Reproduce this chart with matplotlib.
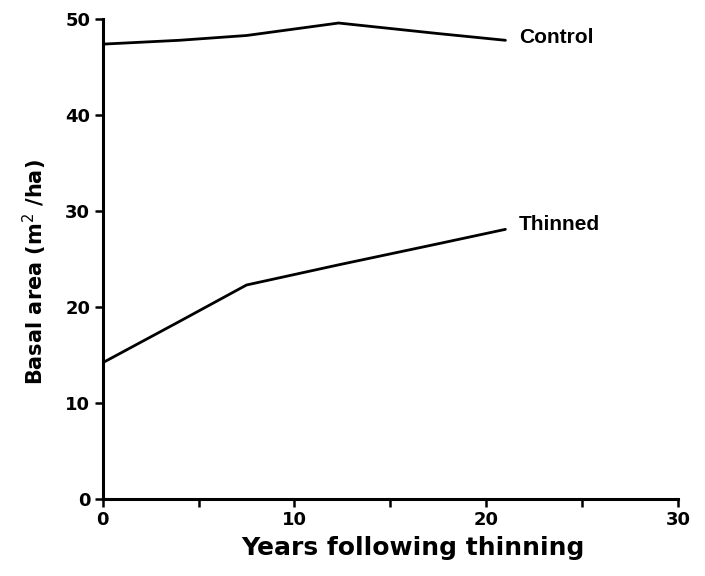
"""Basal area after thinning, control vs thinned stands."""

from matplotlib import pyplot as plt

years = [0, 4, 7.5, 12.3, 17.5, 21]
control = [47.4, 47.8, 48.3, 49.6, 48.5, 47.8]
thinned = [14.2, 18.5, 22.3, 24.4, 26.6, 28.1]

x_ticks = [0, 10, 20, 30]
x_minor = [5, 15, 25]
y_ticks = [0, 10, 20, 30, 40, 50]

fig = plt.figure(figsize=(7.05, 5.76), dpi=100)
ax = fig.add_axes([0.1457, 0.1337, 0.816, 0.833])

ax.plot(years, control, color="black", lw=2.0, solid_capstyle="round")
ax.plot(years, thinned, color="black", lw=2.0, solid_capstyle="round")

ax.text(21.7, control[-1] + 0.3, "Control", fontsize=15, fontweight="bold",
        family="Liberation Sans", va="center", ha="left")
ax.text(21.7, thinned[-1] + 0.5, "Thinned", fontsize=15, fontweight="bold",
        family="Liberation Sans", va="center", ha="left")

ax.set_xlim(0, 30)
ax.set_ylim(0, 50)
ax.set_xticks(x_ticks)
ax.set_xticks(x_minor, minor=True)
ax.set_yticks(y_ticks)

for side in ("top", "right"):
    ax.spines[side].set_visible(False)
for side in ("left", "bottom"):
    ax.spines[side].set_linewidth(2.2)

ax.tick_params(axis="both", which="major", direction="out", length=6, width=1.8,
               labelsize=13, pad=3)
ax.tick_params(axis="x", which="minor", direction="out", length=6, width=1.8)
for lab in ax.get_xticklabels() + ax.get_yticklabels():
    lab.set_fontweight("bold")

ax.set_xlabel("Years following thinning", fontsize=18, fontweight="bold",
              labelpad=5, x=0.54)
ax.set_ylabel("Basal area (m$^2$ /ha)", fontsize=15, fontweight="bold",
              labelpad=12, y=0.473)

fig.savefig("out.png", dpi=100)
